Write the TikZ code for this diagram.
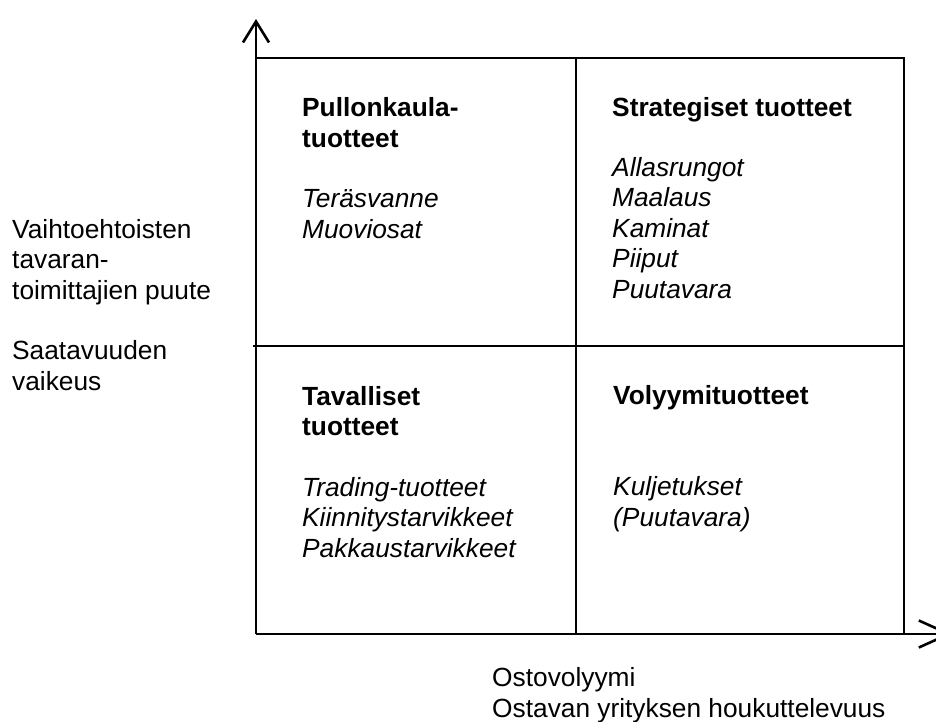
\documentclass[tikz,border=0pt]{standalone}
\usepackage{fontspec}
\setmainfont{Liberation Sans}
\usetikzlibrary{arrows.meta}
\tikzset{
  every node/.style={font=\fontsize{26.3}{30.4}\selectfont,text=black,inner sep=0pt,align=left},
  grid/.style={line width=2.6pt,draw=black},
  axis/.style={grid,-{Straight Barb[length=21pt,width=26pt]}},
  xaxis/.style={grid,-{Straight Barb[length=30pt,width=27pt]}},
  cell/.style={anchor=base west},
}
\begin{document}
\begin{tikzpicture}[x=1pt,y=-1pt]
\clip (0,0) rectangle (936,722);

% corners of the matrix
\coordinate (O) at (256,634);
\coordinate (ytip) at (256,19);
\coordinate (xtip) at (952,634);
\coordinate (tl) at (256,58);
\coordinate (tr) at (904,58);
\coordinate (br) at (904,634);
\coordinate (ml) at (253,346);
\coordinate (mr) at (904,346);
\coordinate (mt) at (576,58);
\coordinate (mb) at (576,634);

% frame and dividers
\draw[grid] (tl) -- (tr) -- (br);
\draw[grid] (ml) -- (mr);
\draw[grid] (mt) -- (mb);

% axes
\draw[axis] (O) -- (ytip);
\draw[xaxis] (O) -- (xtip);

% four quadrants (placed at the baseline of the last line)
\node[cell] (bottleneck) at (302,238) {\textbf{Pullonkaula-}\\\textbf{tuotteet}\\[30pt]\textit{Teräsvanne}\\\textit{Muoviosat}};
\node[cell] (strategic) at (612,298) {\textbf{Strategiset tuotteet}\\[30pt]\textit{Allasrungot}\\\textit{Maalaus}\\\textit{Kaminat}\\\textit{Piiput}\\\textit{Puutavara}};
\node[cell] (routine) at (302,557) {\textbf{Tavalliset}\\\textbf{tuotteet}\\[30pt]\textit{Trading-tuotteet}\\\textit{Kiinnitystarvikkeet}\\\textit{Pakkaustarvikkeet}};
\node[cell] (leverage) at (613,526) {\textbf{Volyymituotteet}\\[61pt]\textit{Kuljetukset}\\\textit{(Puutavara)}};

% axis labels
\node[cell] (ylabel) at (12,390) {Vaihtoehtoisten\\tavaran-\\toimittajien puute\\[30pt]Saatavuuden\\vaikeus};
\node[cell] (xlabel) at (492,717) {Ostovolyymi\\Ostavan yrityksen houkuttelevuus};

\end{tikzpicture}
\end{document}
